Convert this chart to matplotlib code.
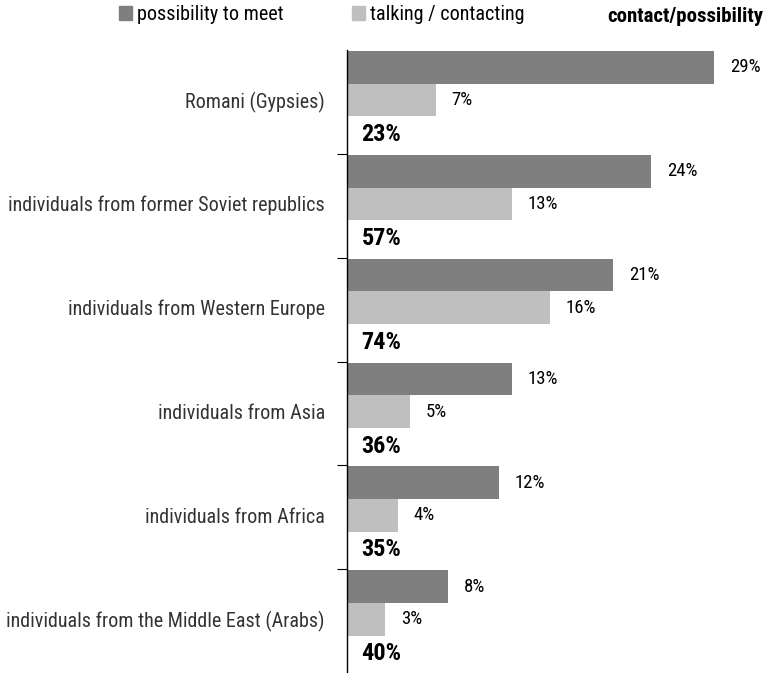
import matplotlib.pyplot as plt
from matplotlib.patches import Patch

plt.rcParams['font.family'] = ['Roboto Condensed', 'Roboto', 'DejaVu Sans']

# Groups, top to bottom
groups = [
    "Romani (Gypsies)",
    "individuals from former Soviet republics",
    "individuals from Western Europe",
    "individuals from Asia",
    "individuals from Africa",
    "individuals from the Middle East (Arabs)",
]
meet = [29, 24, 21, 13, 12, 8]       # possibility to meet (%)
contact = [7, 13, 16, 5, 4, 3]       # talking / contacting (%)
ratio = [23, 57, 74, 36, 35, 40]     # contact/possibility (%)

dark = "#7f7f7f"
light = "#bfbfbf"

fig = plt.figure(figsize=(7.73, 6.73), dpi=100)
ax = fig.add_axes([347 / 773, 0, 1 - 347 / 773 - 12 / 773, 1 - 50 / 673])

bar_h = 0.315
for i in range(len(groups)):
    ax.barh(i + 0.01, meet[i], height=bar_h, align='edge', color=dark)
    ax.barh(i + 0.01 + bar_h, contact[i], height=bar_h, align='edge', color=light)
    ax.text(meet[i] + 1.25, i + 0.01 + bar_h / 2, f"{meet[i]}%",
            va='center', ha='left', fontsize=13.5)
    ax.text(contact[i] + 1.25, i + 0.01 + 1.5 * bar_h, f"{contact[i]}%",
            va='center', ha='left', fontsize=13.5)
    ax.text(1.15, i + 0.815, f"{ratio[i]}%", va='center', ha='left',
            fontsize=17.5, fontweight='bold')

ax.set_xlim(0, 32.7)
ax.set_ylim(len(groups), 0)

# category labels on major ticks, separators on minor ticks
ax.set_yticks([i + 0.48 for i in range(len(groups))])
ax.set_yticklabels(groups, fontsize=14.5, color="#333333")
ax.tick_params(axis='y', which='major', length=0, pad=16)
ax.set_yticks(range(1, len(groups)), minor=True)
ax.tick_params(axis='y', which='minor', length=7, width=0.8)
ax.set_xticks([])

for s in ['top', 'right', 'bottom']:
    ax.spines[s].set_visible(False)
ax.spines['left'].set_linewidth(1.0)

handles = [Patch(color=dark, label="possibility to meet"),
           Patch(color=light, label="talking / contacting")]
fig.legend(handles=handles, loc='upper left', bbox_to_anchor=(119 / 773, 1 - 5 / 673),
           ncol=2, frameon=False, fontsize=14.5, handlelength=0.65,
           handleheight=0.65, handletextpad=0.25, columnspacing=3.4,
           borderpad=0, borderaxespad=0)
fig.text(763 / 773, 1 - 17 / 673, "contact/possibility", ha='right', va='center',
         fontsize=15, fontweight='bold')

fig.savefig("out.png", dpi=100)
